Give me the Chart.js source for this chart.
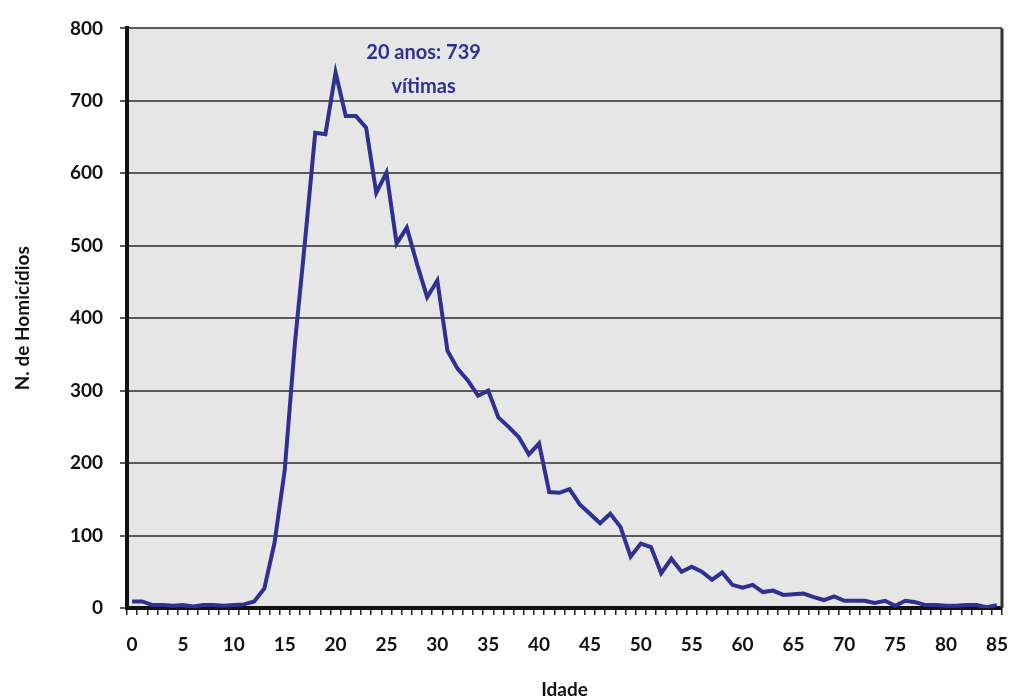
<!DOCTYPE html>
<html>
<head>
<meta charset="utf-8">
<script src="https://cdn.jsdelivr.net/npm/chart.js@4"></script>
<style>
  body { margin: 0; background: #fff; }
  canvas { display: block; }
</style>
</head>
<body>
<canvas id="chart" width="1014" height="699"></canvas>
<script>
let idades = [0, 1, 2, 3, 4, 5, 6, 7, 8, 9, 10, 11, 12, 13, 14, 15, 16, 17, 18, 19,
    20, 21, 22, 23, 24, 25, 26, 27, 28, 29, 30, 31, 32, 33, 34, 35, 36, 37, 38, 39,
    40, 41, 42, 43, 44, 45, 46, 47, 48, 49, 50, 51, 52, 53, 54, 55, 56, 57, 58, 59,
    60, 61, 62, 63, 64, 65, 66, 67, 68, 69, 70, 71, 72, 73, 74, 75, 76, 77, 78, 79,
    80, 81, 82, 83, 84, 85];

let homicidios = [9, 9, 4, 4, 3, 4, 2, 4, 4, 3, 4, 5, 9, 27, 90, 190, 365, 507, 656, 654,
    739, 679, 679, 663, 573, 601, 503, 525, 475, 429, 452, 355, 330, 314, 293, 300, 263, 250, 236, 212,
    227, 160, 159, 164, 143, 130, 117, 130, 112, 71, 89, 84, 48, 68, 50, 57, 50, 39, 49, 32,
    28, 32, 22, 24, 18, 19, 20, 15, 11, 16, 10, 10, 10, 7, 10, 3, 10, 8, 4, 4,
    3, 3, 4, 4, 1, 4];

let rotulosX = ['0', '5', '10', '15', '20', '25', '30', '35', '40', '45', '50', '55', '60', '65', '70', '75', '80', '85'];
let anotacao = ['20 anos: 739', 'vítimas'];

const azul = '#2e3192';
const fonte = 'Lato, "Open Sans", sans-serif';

const fundoPlugin = {
    id: 'fundo',
    beforeDraw(chart) {
        let { ctx, chartArea: a } = chart;
        ctx.save();
        ctx.fillStyle = '#e6e6e6';
        ctx.fillRect(a.left, a.top, a.right - a.left, a.bottom - a.top);
        ctx.restore();
    },
    afterDraw(chart) {
        let { ctx, chartArea: a, scales } = chart;
        ctx.save();
        // borda direita
        ctx.strokeStyle = '#333';
        ctx.lineWidth = 3;
        ctx.beginPath();
        ctx.moveTo(a.right, a.top);
        ctx.lineTo(a.right, a.bottom);
        ctx.stroke();
        // anotacao do pico
        let x = scales.x.getPixelForValue(20) + 88;
        let y = scales.y.getPixelForValue(766);
        ctx.fillStyle = azul;
        ctx.font = 'bold 20px ' + fonte;
        ctx.textAlign = 'center';
        ctx.textBaseline = 'middle';
        ctx.fillText(anotacao[0], x, y);
        ctx.fillText(anotacao[1], x, y + 34);
        ctx.restore();
    }
};

let ctx = document.getElementById('chart').getContext('2d');
let chart = new Chart(ctx, {
    type: 'line',
    data: {
        labels: idades,
        datasets: [{
            data: homicidios,
            borderColor: azul,
            borderWidth: 4,
            pointRadius: 0,
            tension: 0,
            fill: false
        }]
    },
    options: {
        responsive: false,
        animation: false,
        layout: { padding: { top: 27, right: 12 } },
        plugins: { legend: { display: false }, tooltip: { enabled: false } },
        scales: {
            x: {
                type: 'category',
                offset: true,
                afterFit: (scale) => {
                    scale.height = 91;
                    scale.paddingLeft = 0;
                    scale.paddingRight = 0;
                },
                grid: {
                    offset: true,
                    drawOnChartArea: false,
                    drawTicks: true,
                    tickLength: 7,
                    color: '#222',
                    lineWidth: 1.5
                },
                border: { color: '#111', width: 4 },
                ticks: {
                    autoSkip: false,
                    maxRotation: 0,
                    padding: 18,
                    color: '#111',
                    font: { family: fonte, size: 19, weight: 'bold' },
                    callback: function (value) {
                        let l = String(this.getLabelForValue(value));
                        return rotulosX.includes(l) ? l : '';
                    }
                },
                title: {
                    display: true,
                    text: 'Idade',
                    color: '#111',
                    font: { family: fonte, size: 19, weight: 'bold', lineHeight: 1 },
                    padding: { top: 0, bottom: 0 }
                }
            },
            y: {
                min: 0,
                max: 800,
                afterFit: (scale) => { scale.width = 127; },
                grid: {
                    color: '#5a5a5a',
                    lineWidth: 2,
                    drawTicks: true,
                    tickLength: 7
                },
                border: { color: '#111', width: 4 },
                ticks: {
                    stepSize: 100,
                    padding: 17,
                    color: '#111',
                    font: { family: fonte, size: 19, weight: 'bold' }
                },
                title: {
                    display: true,
                    text: 'N. de Homicídios',
                    color: '#111',
                    font: { family: fonte, size: 19, weight: 'bold', lineHeight: 1.2 },
                    padding: { top: 11, bottom: 0 }
                }
            }
        }
    },
    plugins: [fundoPlugin]
});
</script>
</body>
</html>
